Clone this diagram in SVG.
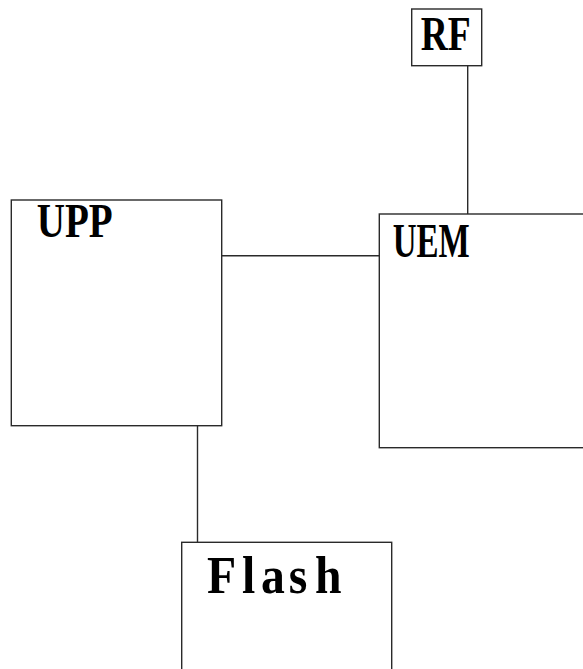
<svg xmlns="http://www.w3.org/2000/svg" width="583" height="669" viewBox="0 0 583 669">
<style>
.box{fill:#fff;stroke:#2a2a2a;stroke-width:1.4}
.conn{stroke:#2a2a2a;stroke-width:1.4;fill:none}
.lbl{font-family:"Liberation Serif","Times New Roman",serif;font-weight:bold;fill:#000}
</style>
<rect width="583" height="669" fill="#fff"/>
<g id="connectors">
<line class="conn" x1="467.7" y1="66" x2="467.7" y2="214"/>
<line class="conn" x1="222" y1="255.7" x2="379.3" y2="255.7"/>
<line class="conn" x1="197.5" y1="426" x2="197.5" y2="542.3"/>
</g>
<g id="rf">
<rect class="box" x="411.7" y="9" width="70" height="56.7"/>
<text class="lbl" x="420.7" y="50.3" font-size="48" textLength="50" lengthAdjust="spacingAndGlyphs">RF</text>
</g>
<g id="upp">
<rect class="box" x="11.3" y="200" width="210.4" height="225.7"/>
<text class="lbl" x="36.7" y="237" font-size="49" textLength="76" lengthAdjust="spacingAndGlyphs">UPP</text>
</g>
<g id="uem">
<rect class="box" x="379.3" y="214" width="230" height="233.7"/>
<text class="lbl" x="392.7" y="257.3" font-size="49" textLength="77" lengthAdjust="spacingAndGlyphs">UEM</text>
</g>
<g id="flash">
<rect class="box" x="181.7" y="542.3" width="210" height="160"/>
<text class="lbl" transform="translate(206,592.6) scale(0.9,1)" font-size="53"><tspan x="1">F</tspan><tspan x="40">l</tspan><tspan x="61">a</tspan><tspan x="92">s</tspan><tspan x="121">h</tspan></text>
</g>
</svg>
